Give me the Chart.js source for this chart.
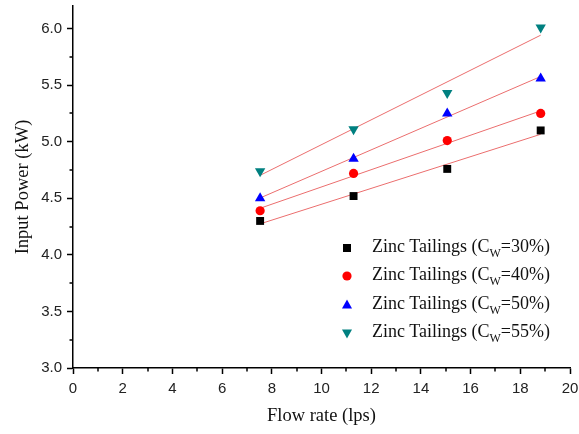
<!DOCTYPE html>
<html>
<head>
<meta charset="utf-8">
<script src="https://cdn.jsdelivr.net/npm/chart.js@4"></script>
<style>
  html, body { margin: 0; padding: 0; background: #fff; }
  #wrap { position: relative; width: 579px; height: 434px; }
  #legend { position: absolute; left: 0; top: 0; font-family: "Liberation Serif", "Times New Roman", serif; font-size: 18px; color: #111; }
  #legend .row { position: absolute; left: 340px; height: 20px; white-space: nowrap; }
  #legend svg { position: absolute; left: 0; top: 2px; }
  #legend span { position: absolute; left: 32px; top: -2px; }
  #legend sub { font-size: 12px; vertical-align: -5px; }
</style>
</head>
<body>
<div id="wrap">
  <canvas id="chart" width="579" height="434"></canvas>
  <div id="legend"></div>
</div>
<script>
// flow rate (lps) and input power (kW)
const flowRate = [7.53, 11.29, 15.06, 18.82];
const cw30 = [4.30, 4.52, 4.76, 5.10];
const cw40 = [4.39, 4.72, 5.01, 5.25];
const cw50 = [4.50, 4.85, 5.25, 5.56];
const cw55 = [4.74, 5.11, 5.43, 6.01];
const seriesNames = ['30%', '40%', '50%', '55%'];
const seriesColors = ['#000000', '#ff0000', '#0000ff', '#008080'];
const yTicks = [3.0, 3.5, 4.0, 4.5, 5.0, 5.5, 6.0];
const xTicks = [0, 2, 4, 6, 8, 10, 12, 14, 16, 18, 20];

const allSeries = [cw30, cw40, cw50, cw55];
const shapes = [
  {style: 'rect', radius: 5.6, rot: 0},
  {style: 'circle', radius: 4.6, rot: 0},
  {style: 'triangle', radius: 6, rot: 0},
  {style: 'triangle', radius: 6, rot: 180}
];

// least squares fit, like the red lines in the origin plot
function fit(xs, ys){
  const n = xs.length;
  const mx = xs.reduce((a,b)=>a+b,0)/n;
  const my = ys.reduce((a,b)=>a+b,0)/n;
  let sxy = 0, sxx = 0;
  xs.forEach((x,i)=>{ sxy += (x-mx)*(ys[i]-my); sxx += (x-mx)*(x-mx); });
  const b = sxy/sxx;
  const a = my - b*mx;
  const x0 = xs[0], x1 = xs[n-1];
  return [{x:x0, y:a+b*x0}, {x:x1, y:a+b*x1}];
}

const datasets = [];
allSeries.forEach((ys,i)=>{
  datasets.push({
    label: 'fit ' + seriesNames[i],
    data: fit(flowRate, ys),
    showLine: true,
    borderColor: 'rgba(235,110,110,1)',
    borderWidth: 1,
    pointRadius: 0,
    order: 2
  });
});
allSeries.forEach((ys,i)=>{
  datasets.push({
    label: 'Zinc Tailings (Cw=' + seriesNames[i] + ')',
    data: ys.map((y,j)=>({x: flowRate[j], y: y})),
    pointStyle: shapes[i].style,
    pointRotation: shapes[i].rot,
    pointRadius: shapes[i].radius,
    pointBackgroundColor: seriesColors[i],
    pointBorderColor: seriesColors[i],
    pointBorderWidth: 0,
    showLine: false,
    order: 1
  });
});

// small minor ticks between the labelled ones
const minorTicks = {
  id: 'minorTicks',
  afterDraw(chart){
    const ctx = chart.ctx;
    const xs = chart.scales.x, ys = chart.scales.y;
    ctx.save();
    ctx.strokeStyle = '#000';
    ctx.lineWidth = 1.5;
    for (let v = 1; v < 20; v += 2){
      const px = Math.round(xs.getPixelForValue(v));
      ctx.beginPath(); ctx.moveTo(px, xs.top); ctx.lineTo(px, xs.top + 3.5); ctx.stroke();
    }
    for (let v = 3.25; v < 6.2; v += 0.5){
      const py = Math.round(ys.getPixelForValue(v));
      ctx.beginPath(); ctx.moveTo(ys.right, py); ctx.lineTo(ys.right - 3.5, py); ctx.stroke();
    }
    ctx.restore();
  }
};

const ctx = document.getElementById('chart').getContext('2d');
new Chart(ctx, {
  type: 'scatter',
  data: { datasets: datasets },
  plugins: [minorTicks],
  options: {
    responsive: false,
    animation: false,
    layout: { padding: { top: 4, right: 9, left: 0, bottom: 0 } },
    plugins: { legend: { display: false }, tooltip: { enabled: false } },
    scales: {
      x: {
        type: 'linear', min: 0, max: 20,
        afterBuildTicks: s => { s.ticks = xTicks.map(v => ({value: v})); },
        afterFit: s => { s.height = 66; s.paddingLeft = 0; s.paddingRight = 0; },
        border: { display: true, color: '#000', width: 1.5 },
        grid: { drawOnChartArea: false, color: '#000', tickLength: 6, tickWidth: 1.5 },
        ticks: { color: '#222', font: { family: 'Liberation Sans, Arial', size: 15 }, padding: 6, maxRotation: 0 },
        title: { display: true, text: 'Flow rate (lps)', color: '#111',
                 font: { family: 'Liberation Serif, Times New Roman', size: 18.5 }, padding: { top: 0, bottom: 7 } }
      },
      y: {
        type: 'linear', min: 3.0, max: 6.2,
        afterBuildTicks: s => { s.ticks = yTicks.map(v => ({value: v})); },
        afterFit: s => { s.width = 73; s.paddingTop = 0; s.paddingBottom = 0; },
        border: { display: true, color: '#000', width: 1.5 },
        grid: { drawOnChartArea: false, color: '#000', tickLength: 6, tickWidth: 1.5 },
        ticks: { color: '#222', font: { family: 'Liberation Sans, Arial', size: 15 }, padding: 5,
                 callback: v => Number(v).toFixed(1) },
        title: { display: true, text: 'Input Power (kW)', color: '#111',
                 font: { family: 'Liberation Serif, Times New Roman', size: 18.5 }, padding: { top: 12, bottom: 0 } }
      }
    }
  }
});

// legend as html so the W can be a subscript
const legendRows = [248, 276, 305, 333];
const legend = document.getElementById('legend');
seriesNames.forEach((name,i)=>{
  const row = document.createElement('div');
  row.className = 'row';
  row.style.top = (legendRows[i] - 10) + 'px';
  let shape = '';
  if (i === 0) shape = '<rect x="3" y="4" width="8" height="8" fill="#000"/>';
  if (i === 1) shape = '<circle cx="7" cy="8" r="4.6" fill="#ff0000"/>';
  if (i === 2) shape = '<polygon points="7,2.5 12,11.5 2,11.5" fill="#0000ff"/>';
  if (i === 3) shape = '<polygon points="2,4.5 12,4.5 7,13.5" fill="#008080"/>';
  row.innerHTML = '<svg width="16" height="16">' + shape + '</svg>' +
    '<span>Zinc Tailings (C<sub>W</sub>=' + name + ')</span>';
  legend.appendChild(row);
});
</script>
</body>
</html>
